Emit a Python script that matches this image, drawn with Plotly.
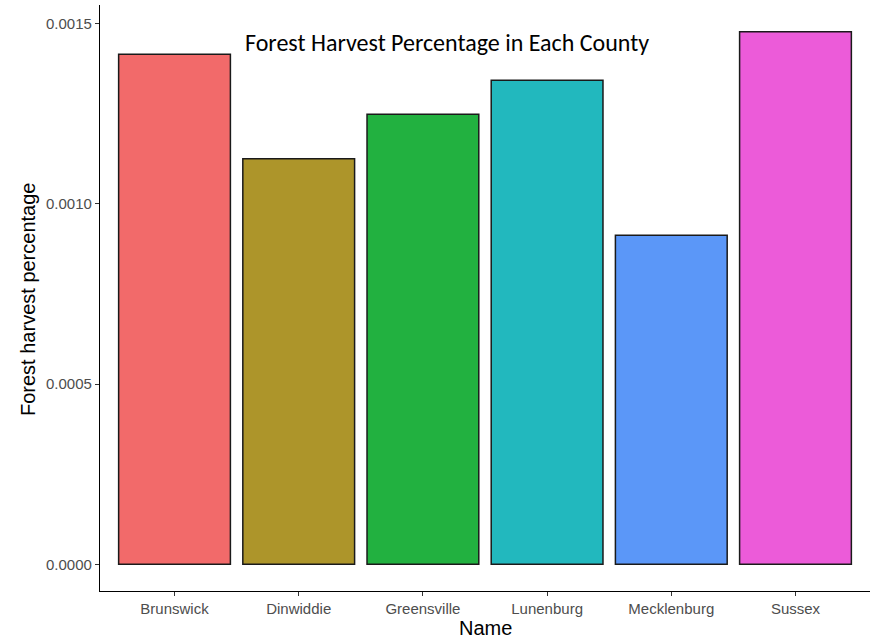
import plotly.graph_objects as go

names = ["Brunswick", "Dinwiddie", "Greensville", "Lunenburg", "Mecklenburg", "Sussex"]
harvest_pct = [0.001415, 0.001125, 0.001249, 0.001343, 0.000913, 0.001478]
bar_colors = ["#F26A6A", "#AD952A", "#22B140", "#22B8BE", "#5B97F8", "#EC5BD9"]
y_ticks = [0.0, 0.0005, 0.0010, 0.0015]
y_tick_text = ["0.0000", "0.0005", "0.0010", "0.0015"]

fig = go.Figure()
fig.add_trace(go.Bar(
    x=names, y=harvest_pct,
    marker=dict(color=bar_colors, line=dict(color="#1a1a1a", width=1.5)),
    width=0.9,
))

ymax = max(harvest_pct)
pad = ymax * 0.05
W, H = 882, 640
L, R, T, B = 100, 12, 5, 49
fig.update_layout(
    width=W, height=H,
    margin=dict(l=L, r=R, t=T, b=B, autoexpand=False),
    paper_bgcolor="white", plot_bgcolor="white",
    showlegend=False,
    font=dict(family="Liberation Sans, Arial, sans-serif"),
)
fig.update_xaxes(
    range=[-0.6, 5.6], showline=True, linecolor="black", linewidth=1.2,
    ticks="outside", ticklen=4, tickcolor="#333333", tickwidth=1,
    tickfont=dict(size=15, color="#4D4D4D"), showgrid=False, zeroline=False,
    automargin=False,
)
fig.update_yaxes(
    range=[-pad, ymax + pad], showline=True, linecolor="black", linewidth=1.2,
    ticks="outside", ticklen=4, tickcolor="#333333", tickwidth=1,
    tickvals=y_ticks, ticktext=y_tick_text,
    tickfont=dict(size=15, color="#4D4D4D"), showgrid=False, zeroline=False,
    automargin=False,
)
pw = W - L - R
ph = H - T - B
fig.add_annotation(
    text="Name", xref="paper", yref="paper",
    x=(485 - L) / pw, y=(H - B - 628) / ph, xanchor="center", yanchor="middle",
    showarrow=False, font=dict(size=20, color="black"),
)
fig.add_annotation(
    text="Forest harvest percentage", xref="paper", yref="paper", textangle=-90,
    x=(28 - L) / pw, y=(H - B - 300) / ph, xanchor="center", yanchor="middle",
    showarrow=False, font=dict(size=20, color="black"),
)
fig.add_annotation(
    text="Forest Harvest Percentage in Each County",
    xref="paper", yref="paper", x=(446.5 - L) / pw, y=(H - B - 42) / ph,
    xanchor="center", yanchor="middle",
    showarrow=False, font=dict(family="Carlito, Lato, sans-serif", size=24, color="black"),
)
fig.write_html(
    "out.html",
    config={"displayModeBar": False},
    post_script="document.body.style.margin='0';document.body.style.overflow='hidden';",
)
